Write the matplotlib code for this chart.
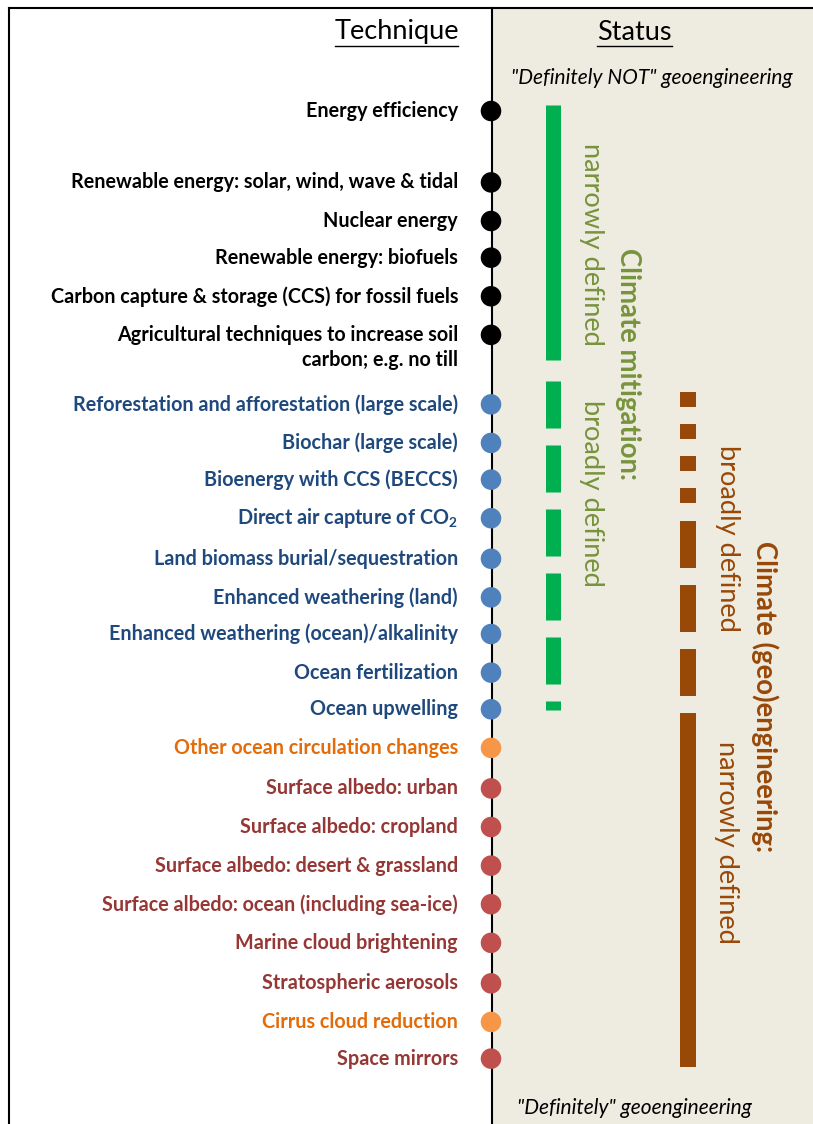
import matplotlib
matplotlib.use("Agg")
import matplotlib.pyplot as plt
import numpy as np

# ---------------- data ----------------
techniques = [
    "Energy efficiency",
    "Renewable energy: solar, wind, wave & tidal",
    "Nuclear energy",
    "Renewable energy: biofuels",
    "Carbon capture & storage (CCS) for fossil fuels",
    "Agricultural techniques to increase soil\ncarbon; e.g. no till",
    "Reforestation and afforestation (large scale)",
    "Biochar (large scale)",
    "Bioenergy with CCS (BECCS)",
    "Direct air capture of CO$_\\mathbf{2}$",
    "Land biomass burial/sequestration",
    "Enhanced weathering (land)",
    "Enhanced weathering (ocean)/alkalinity",
    "Ocean fertilization",
    "Ocean upwelling",
    "Other ocean circulation changes",
    "Surface albedo: urban",
    "Surface albedo: cropland",
    "Surface albedo: desert & grassland",
    "Surface albedo: ocean (including sea-ice)",
    "Marine cloud brightening",
    "Stratospheric aerosols",
    "Cirrus cloud reduction",
    "Space mirrors",
]
# row position of each technique (category order, with group gaps)
rows = [0, 1.85, 2.85, 3.8, 4.8, 5.8,
        7.6, 8.6, 9.55, 10.55, 11.6, 12.6, 13.55, 14.55, 15.5,
        16.5, 17.55, 18.55, 19.55, 20.55, 21.55, 22.6, 23.6, 24.55]
groups = ["energy"] * 6 + ["cdr"] * 9 + ["other"] + ["srm"] * 6 + ["other"] + ["srm"]

# status spans (in row units)
mitigation_narrow = (-0.16, 6.45)
mitigation_broad = (6.99, 15.52)
geo_broad_short = (7.28, 10.2)
geo_broad_long = (10.62, 15.18)
geo_narrow = (15.6, 24.77)

# ---------------- style ----------------
text_colors = {"energy": "#000000", "cdr": "#1F497D", "other": "#E36C09", "srm": "#953735"}
dot_colors = {"energy": "#000000", "cdr": "#4F81BD", "other": "#F79646", "srm": "#C0504D"}
GREEN = "#00B050"
GREEN_TXT = "#77933C"
BROWN = "#984807"
BEIGE = "#EEEBE0"
FONT = "Lato"

plt.rcParams["font.family"] = [FONT, "DejaVu Sans"]
plt.rcParams["mathtext.fontset"] = "custom"
plt.rcParams["mathtext.rm"] = FONT
plt.rcParams["mathtext.bf"] = FONT + ":bold"
plt.rcParams["lines.scale_dashes"] = False

W, H = 813, 1124
ROW0, ROWPX = 111.0, 38.6
LABEL_FS = 14.2
LINE_PX = 25.0


def r(px):
    return (px - ROW0) / ROWPX


fig = plt.figure(figsize=(W / 100, H / 100), dpi=100)
ax = fig.add_axes([0, 0, 1, 1])
ax.set_xlim(0, W)
ax.set_ylim(r(H), r(0))
ax.axis("off")

# background panels
ax.axvspan(492, W, ymin=0, ymax=1 - 8 / H, color=BEIGE, zorder=0)
ax.plot([492, 492], [r(8), r(H)], color="black", lw=1.5, zorder=2)
ax.plot([9, 9], [r(8), r(H)], color="black", lw=1.5, zorder=2)
ax.plot([9, W], [r(8), r(8)], color="black", lw=1.5, zorder=2)

# headers
ax.text(396.5, r(32), "Technique", ha="center", va="center", fontsize=19.5)
ax.plot([335, 458], [r(46), r(46)], color="black", lw=1.0)
ax.text(634.5, r(32), "Status", ha="center", va="center", fontsize=19.5)
ax.plot([597, 672], [r(46), r(46)], color="black", lw=1.0)
ax.text(652, r(78), '"Definitely NOT" geoengineering', ha="center", va="center",
        fontsize=15, style="italic")
ax.text(634, r(1108), '"Definitely" geoengineering', ha="center", va="center",
        fontsize=15, style="italic")

# technique labels and dots
for name, y, g in zip(techniques, rows, groups):
    for i, line in enumerate(name.split("\n")):
        ax.annotate(line, (458, y), xytext=(0, -i * LINE_PX * 0.72), textcoords="offset points",
                    ha="right", va="center", fontsize=LABEL_FS, fontweight="bold",
                    color=text_colors[g])
ax.scatter([491] * len(rows), rows, s=14.8 ** 2, c=[dot_colors[g] for g in groups],
           edgecolors="none", zorder=3)


# status bars
def vbar(x, span, color, width_px, dashes=None):
    lw = width_px * 0.72
    ln, = ax.plot([x, x], [span[0], span[1]], color=color, lw=lw,
                  solid_capstyle="butt", dash_capstyle="butt", zorder=2)
    if dashes:
        ln.set_dashes([d * 0.72 for d in dashes])


vbar(552.5, mitigation_narrow, GREEN, 15)
vbar(552.5, mitigation_broad, GREEN, 15, dashes=(47, 17))
vbar(688, geo_broad_short, BROWN, 16, dashes=(15, 17))
vbar(688, geo_broad_long, BROWN, 16, dashes=(47, 17))
vbar(688, geo_narrow, BROWN, 16)

# rotated status texts
REG_FS, BOLD_FS = 19.6, 19.8
ax.text(591, r(244), "narrowly defined", rotation=270, ha="center", va="center",
        fontsize=REG_FS, color=GREEN_TXT)
ax.text(591, r(493), "broadly defined", rotation=270, ha="center", va="center",
        fontsize=REG_FS, color=GREEN_TXT)
ax.text(628, r(364), "Climate mitigation:", rotation=270, ha="center", va="center",
        fontsize=BOLD_FS, fontweight="bold", color=GREEN_TXT)
ax.text(727, r(538), "broadly defined", rotation=270, ha="center", va="center",
        fontsize=REG_FS, color=BROWN)
ax.text(765, r(697), "Climate (geo)engineering:", rotation=270, ha="center", va="center",
        fontsize=BOLD_FS, fontweight="bold", color=BROWN)
ax.text(726, r(842), "narrowly defined", rotation=270, ha="center", va="center",
        fontsize=REG_FS, color=BROWN)

fig.savefig("out.png", dpi=100)
